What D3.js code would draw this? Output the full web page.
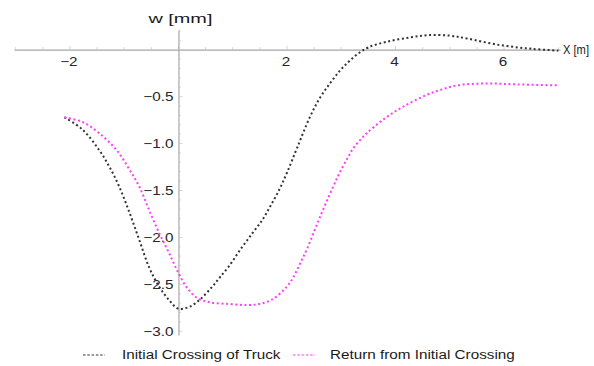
<!DOCTYPE html>
<html><head><meta charset="utf-8">
<script src="https://cdn.jsdelivr.net/npm/d3@7"></script>
<style>
html,body{margin:0;padding:0;background:#fff;overflow:hidden}
text{font-family:"Liberation Sans",Arial,sans-serif}
</style></head>
<body><svg id="c" width="594" height="366"></svg>
<script>
// Series: "Initial Crossing of Truck"
const truckX = [-2.1,-1.77,-1.46,-1.27,-1.09,-0.9,-0.72,-0.54,-0.35,-0.17,0.0,0.2,0.4,0.63,0.77,0.94,1.14,1.37,1.55,1.69,1.85,2.0,2.19,2.42,2.6,2.79,2.98,3.15,3.34,3.52,3.84,4.26,4.6,5.0,5.31,5.92,6.5,7.0];
const truckW = [-0.72,-0.85,-1.07,-1.25,-1.46,-1.74,-2.03,-2.32,-2.53,-2.67,-2.76,-2.74,-2.66,-2.52,-2.42,-2.30,-2.13,-1.95,-1.81,-1.67,-1.50,-1.31,-1.04,-0.72,-0.52,-0.36,-0.22,-0.12,-0.03,0.03,0.085,0.13,0.155,0.15,0.12,0.05,0.01,-0.01];
// Series: "Return from Initial Crossing"
const returnX = [-2.1,-1.77,-1.46,-1.14,-0.9,-0.72,-0.54,-0.35,-0.17,0.0,0.15,0.33,0.57,0.94,1.25,1.49,1.73,1.99,2.11,2.24,2.37,2.61,2.85,2.97,3.12,3.21,3.35,3.47,3.76,4.13,4.58,4.82,5.13,5.68,6.24,7.0];
const returnW = [-0.72,-0.77,-0.89,-1.07,-1.28,-1.46,-1.71,-1.96,-2.17,-2.38,-2.53,-2.64,-2.69,-2.71,-2.72,-2.71,-2.66,-2.53,-2.43,-2.28,-2.12,-1.78,-1.46,-1.31,-1.15,-1.06,-0.96,-0.89,-0.75,-0.61,-0.48,-0.43,-0.38,-0.36,-0.37,-0.38];
const seriesNames = ["Initial Crossing of Truck","Return from Initial Crossing"];
const xTicks = [-2,2,4,6];
const yTicks = [-0.5,-1.0,-1.5,-2.0,-2.5,-3.0];
const xLabel = "X [m]";
const yLabel = "w [mm]";

const svg = d3.select("#c");
const STRETCH = 1.22;
const x = d3.scaleLinear().domain([-3.03,7.03]).range([14,560]);
const y = d3.scaleLinear().domain([0.21,-3.04]).range([30,335]);
const axisCol = "#a6a6a6", txtCol = "#262626";
const cols = ["#333333","#ff3dff"];

function stretch(sel, factor){
  sel.each(function(){
    const w = this.getComputedTextLength();
    this.setAttribute("textLength", w*factor);
    this.setAttribute("lengthAdjust","spacingAndGlyphs");
  });
}
const fmt = v => (v<0?"\u2212":"") + Math.abs(v).toString();
const fmtY = v => (v<0?"\u2212":"") + Math.abs(v).toFixed(1);

// x axis
const xa = svg.append("g").attr("transform",`translate(0,${y(0)})`);
xa.call(d3.axisBottom(x).tickValues([]).tickSizeOuter(0));
xa.select(".domain").attr("stroke",axisCol).attr("stroke-width",1.2);
const xMinor = d3.range(-3,7.01,0.5);
xa.selectAll("line.mt").data(xMinor).join("line").attr("class","mt")
  .attr("x1",d=>x(d)).attr("x2",d=>x(d)).attr("y1",0)
  .attr("y2",d=>Number.isInteger(d/2)?-4:-2.5)
  .attr("stroke","#c8c8c8").attr("stroke-width",0.8);
const xl = svg.append("g").selectAll("text").data(xTicks).join("text")
  .attr("x",d=>x(d)-1).attr("y",y(0)+12).attr("dy","0.35em")
  .attr("text-anchor","middle").attr("font-size",12.5).attr("fill",txtCol)
  .text(fmt);
stretch(xl,STRETCH);

// y axis
const ya = svg.append("g").attr("transform",`translate(${x(0)},0)`);
ya.call(d3.axisLeft(y).tickValues([]).tickSizeOuter(0));
ya.select(".domain").attr("stroke",axisCol).attr("stroke-width",1.2);
const yMinor = d3.range(0.2,-3.05,-0.1).map(v=>Math.round(v*10)/10);
ya.selectAll("line.mt").data(yMinor).join("line").attr("class","mt")
  .attr("y1",d=>y(d)).attr("y2",d=>y(d)).attr("x1",0)
  .attr("x2",d=>Math.abs(d*2-Math.round(d*2))<1e-6?4:2.5)
  .attr("stroke","#c8c8c8").attr("stroke-width",0.8);
const yl = svg.append("g").selectAll("text").data(yTicks).join("text")
  .attr("x",x(0)-5).attr("y",d=>y(d)).attr("dy","0.35em")
  .attr("text-anchor","end").attr("font-size",12.5).attr("fill",txtCol)
  .text(fmtY);
stretch(yl,STRETCH);

// axis labels
svg.append("text").attr("x",x(0)+2).attr("y",18).attr("dy","0.35em")
  .attr("text-anchor","middle").attr("font-size",13.5).attr("fill","#1a1a1a").text(yLabel)
  .attr("textLength",64).attr("lengthAdjust","spacingAndGlyphs");
svg.append("text").attr("x",563).attr("y",y(0)).attr("dy","0.35em")
  .attr("font-size",13).attr("fill","#1a1a1a").text(xLabel)
  .attr("textLength",26).attr("lengthAdjust","spacingAndGlyphs");

// lines
const line = d3.line().x(d=>x(d[0])).y(d=>y(d[1])).curve(d3.curveCatmullRom.alpha(0.5));
const data = [d3.zip(truckX,truckW), d3.zip(returnX,returnW)];
svg.append("g").selectAll("path").data(data).join("path")
  .attr("d",line).attr("fill","none")
  .attr("stroke",(d,i)=>cols[i]).attr("stroke-width",2)
  .attr("stroke-dasharray","2,2.6");

// legend
const legX = [83,293], legTX = [122,330], legY = 355;
const lg = svg.append("g");
lg.selectAll("line").data(seriesNames).join("line")
  .attr("x1",(d,i)=>legX[i]).attr("x2",(d,i)=>legX[i]+22)
  .attr("y1",legY).attr("y2",legY)
  .attr("stroke",(d,i)=>cols[i]).attr("stroke-width",1).attr("stroke-dasharray","2.5,1.8");
const lt = lg.selectAll("text").data(seriesNames).join("text")
  .attr("x",(d,i)=>legTX[i]).attr("y",legY).attr("dy","0.35em")
  .attr("font-size",12.5).attr("fill","#1a1a1a").text(d=>d);
stretch(lt,STRETCH);
</script></body></html>
